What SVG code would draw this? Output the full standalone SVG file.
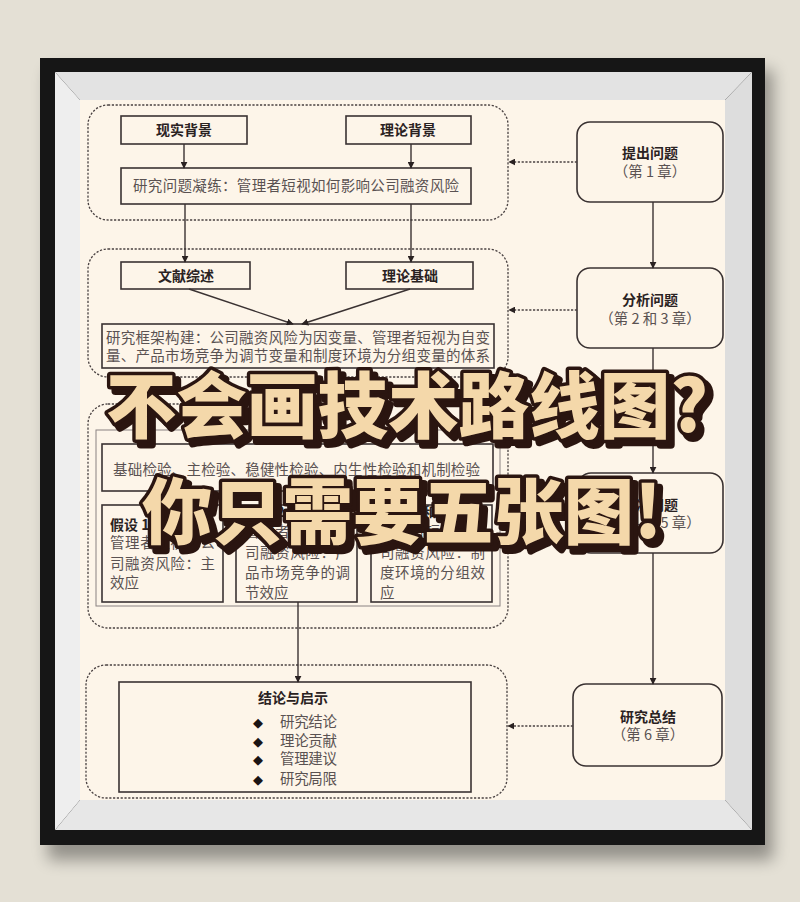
<svg xmlns="http://www.w3.org/2000/svg" width="800" height="902" viewBox="0 0 800 902">
<style>
.box{fill:none;stroke:#3a3232;stroke-width:1.6}
.rbox{fill:#fdf5e9;stroke:#3a3232;stroke-width:1.6}
.grp{fill:none;stroke:#4a4242;stroke-width:1.3;stroke-dasharray:2.2 1.6}
.ln{fill:none;stroke:#3a3232;stroke-width:1.4}
.dl{fill:none;stroke:#4a4242;stroke-width:1.3;stroke-dasharray:2.2 1.6}
.b{font-family:"Noto Sans CJK SC","Liberation Sans",sans-serif;font-weight:700;font-size:14px;fill:#2a2222}
.t{font-family:"Noto Sans CJK SC","Liberation Serif",serif;font-size:14.5px;fill:#5a5252}
.c{text-anchor:middle}
.big{font-family:"Noto Sans CJK SC","Liberation Sans",sans-serif;font-weight:900;font-size:72px}
.sh{fill:#2a1510;stroke:#2a1510;stroke-width:8;stroke-linejoin:round}
.fg{fill:#f4d8aa;stroke:#2a1510;stroke-width:7;stroke-linejoin:round;paint-order:stroke}
</style>
<defs>
<marker id="ah" viewBox="0 0 10 10" refX="9" refY="5" markerWidth="7" markerHeight="7" orient="auto" markerUnits="userSpaceOnUse">
<path d="M0,0 L10,5 L0,10 z" fill="#2a2222"/>
</marker>
<filter id="blur" x="-10%" y="-10%" width="120%" height="130%"><feGaussianBlur stdDeviation="8"/></filter>
</defs>
<rect x="0" y="0" width="800" height="902" fill="#e4e0d5"/>
<!-- frame -->
<g id="frame">
<rect x="48" y="70" width="725" height="790" fill="#000" opacity="0.35" filter="url(#blur)"/>
<rect x="40" y="58" width="725" height="787" fill="#161616"/>
<polygon points="55,72 752,72 725,100 80,100" fill="#e3e3e3"/>
<polygon points="55,72 80,100 80,800 55,830" fill="#eeeeee"/>
<polygon points="752,72 752,830 725,800 725,100" fill="#dddddd"/>
<polygon points="55,830 752,830 725,800 80,800" fill="#e7e7e7"/>
<rect x="80" y="100" width="645" height="700" fill="#fdf5e9"/>
</g>
<!-- groups -->
<g id="group1">
<rect class="grp" x="88" y="105" width="420" height="115" rx="20"/>
</g>
<g id="group2">
<rect class="grp" x="88" y="249" width="420" height="128" rx="20"/>
</g>
<g id="group3">
<rect class="grp" x="88" y="404" width="420" height="224" rx="20"/>
<rect x="96" y="430" width="404" height="176" fill="none" stroke="#8a8282" stroke-width="1"/>
</g>
<g id="group4">
<rect class="grp" x="86" y="665" width="421" height="133" rx="20"/>
</g>
<!-- nodes -->
<g id="n-xianshi"><rect class="box" x="121" y="116" width="126" height="28"/><text class="b c" x="184" y="135">现实背景</text></g>
<g id="n-lilunbj"><rect class="box" x="346" y="116" width="125" height="28"/><text class="b c" x="408" y="135">理论背景</text></g>
<g id="n-wenti"><rect class="box" x="121" y="168" width="350" height="36"/><text class="t" x="133" y="191" textLength="326">研究问题凝练：管理者短视如何影响公司融资风险</text></g>
<g id="n-wenxian"><rect class="box" x="121" y="262" width="129" height="27"/><text class="b c" x="186" y="281">文献综述</text></g>
<g id="n-jichu"><rect class="box" x="346" y="262" width="127" height="27"/><text class="b c" x="410" y="281">理论基础</text></g>
<g id="n-kuangjia"><rect class="box" x="102" y="324" width="392" height="44"/>
<text class="t" x="106" y="343" textLength="384">研究框架构建：公司融资风险为因变量、管理者短视为自变</text>
<text class="t" x="106" y="361" textLength="384">量、产品市场竞争为调节变量和制度环境为分组变量的体系</text></g>
<g id="n-jianyan"><rect class="box" x="102" y="444" width="391" height="47"/><text class="t" x="113" y="475" textLength="367">基础检验、主检验、稳健性检验、内生性检验和机制检验</text></g>
<g id="n-h1"><rect class="box" x="102" y="505" width="121" height="97"/>
<text class="b" x="110" y="530">假设 1</text>
<text class="t" x="110" y="548" textLength="105">管理者短视和公</text>
<text class="t" x="110" y="569" textLength="105">司融资风险：主</text>
<text class="t" x="110" y="588">效应</text></g>
<g id="n-h2"><rect class="box" x="236" y="505" width="121" height="97"/>
<text class="b" x="245" y="517">假设 2</text>
<text class="t" x="245" y="537" textLength="105">管理者短视和公</text>
<text class="t" x="245" y="558" textLength="105">司融资风险：产</text>
<text class="t" x="245" y="578" textLength="105">品市场竞争的调</text>
<text class="t" x="245" y="598">节效应</text></g>
<g id="n-h3"><rect class="box" x="371" y="505" width="121" height="97"/>
<text class="b" x="380" y="517">假设 3 和假设 4</text>
<text class="t" x="380" y="537" textLength="105">管理者短视和公</text>
<text class="t" x="380" y="558" textLength="105">司融资风险：制</text>
<text class="t" x="380" y="578" textLength="105">度环境的分组效</text>
<text class="t" x="380" y="598">应</text></g>
<g id="n-jielun"><rect class="box" x="119" y="682" width="352" height="110"/>
<text class="b c" x="293" y="703">结论与启示</text>
<g font-family="'DejaVu Sans',sans-serif" font-size="13" fill="#1a1414">
<text x="253" y="727">◆</text><text x="253" y="746">◆</text><text x="253" y="764">◆</text><text x="253" y="784">◆</text></g>
<text class="t" x="280" y="727" textLength="57">研究结论</text>
<text class="t" x="280" y="746" textLength="57">理论贡献</text>
<text class="t" x="280" y="764" textLength="57">管理建议</text>
<text class="t" x="280" y="784" textLength="57">研究局限</text></g>
<g id="n-tichu"><rect class="rbox" x="577" y="122" width="146" height="80" rx="13"/><text class="b c" x="650" y="158">提出问题</text><text class="t c" x="650" y="177">（第 1 章）</text></g>
<g id="n-fenxi"><rect class="rbox" x="577" y="268" width="146" height="80" rx="13"/><text class="b c" x="650" y="305">分析问题</text><text class="t c" x="650" y="324">（第 2 和 3 章）</text></g>
<g id="n-jiejue"><rect class="rbox" x="578" y="473" width="145" height="80" rx="13"/><text class="b c" x="650" y="510">解决问题</text><text class="t c" x="650" y="528">（第 4 和 5 章）</text></g>
<g id="n-zongjie"><rect class="rbox" x="573" y="684" width="149" height="82" rx="13"/><text class="b c" x="648" y="722">研究总结</text><text class="t c" x="648" y="740">（第 6 章）</text></g>
<!-- connectors -->
<g id="connectors">
<line class="ln" x1="184" y1="144" x2="184" y2="168" marker-end="url(#ah)"/>
<line class="ln" x1="411" y1="144" x2="411" y2="168" marker-end="url(#ah)"/>
<line class="ln" x1="185" y1="204" x2="185" y2="262" marker-end="url(#ah)"/>
<line class="ln" x1="411" y1="204" x2="411" y2="262" marker-end="url(#ah)"/>
<line class="ln" x1="189" y1="289" x2="293" y2="324" marker-end="url(#ah)"/>
<line class="ln" x1="410" y1="289" x2="302" y2="324" marker-end="url(#ah)"/>
<line class="ln" x1="298" y1="602" x2="298" y2="682" marker-end="url(#ah)"/>
<line class="ln" x1="653" y1="202" x2="653" y2="268" marker-end="url(#ah)"/>
<line class="ln" x1="653" y1="348" x2="653" y2="473" marker-end="url(#ah)"/>
<line class="ln" x1="653" y1="553" x2="653" y2="684" marker-end="url(#ah)"/>
<line class="dl" x1="577" y1="162" x2="509" y2="162" marker-end="url(#ah)"/>
<line class="dl" x1="577" y1="310" x2="509" y2="310" marker-end="url(#ah)"/>
<line class="dl" x1="578" y1="513" x2="509" y2="513" marker-end="url(#ah)"/>
<line class="dl" x1="573" y1="726" x2="508" y2="726" marker-end="url(#ah)"/>
</g>
<!-- overlay title -->
<g id="overlay">
<text class="big sh" x="111" y="437" textLength="602" lengthAdjust="spacingAndGlyphs">不会画技术路线图?</text>
<text class="big fg" x="106" y="432" textLength="602" lengthAdjust="spacingAndGlyphs">不会画技术路线图?</text>
<text class="big sh" x="147" y="543" textLength="520" lengthAdjust="spacingAndGlyphs">你只需要五张图!</text>
<text class="big fg" x="142" y="538" textLength="520" lengthAdjust="spacingAndGlyphs">你只需要五张图!</text>
</g>
</svg>
